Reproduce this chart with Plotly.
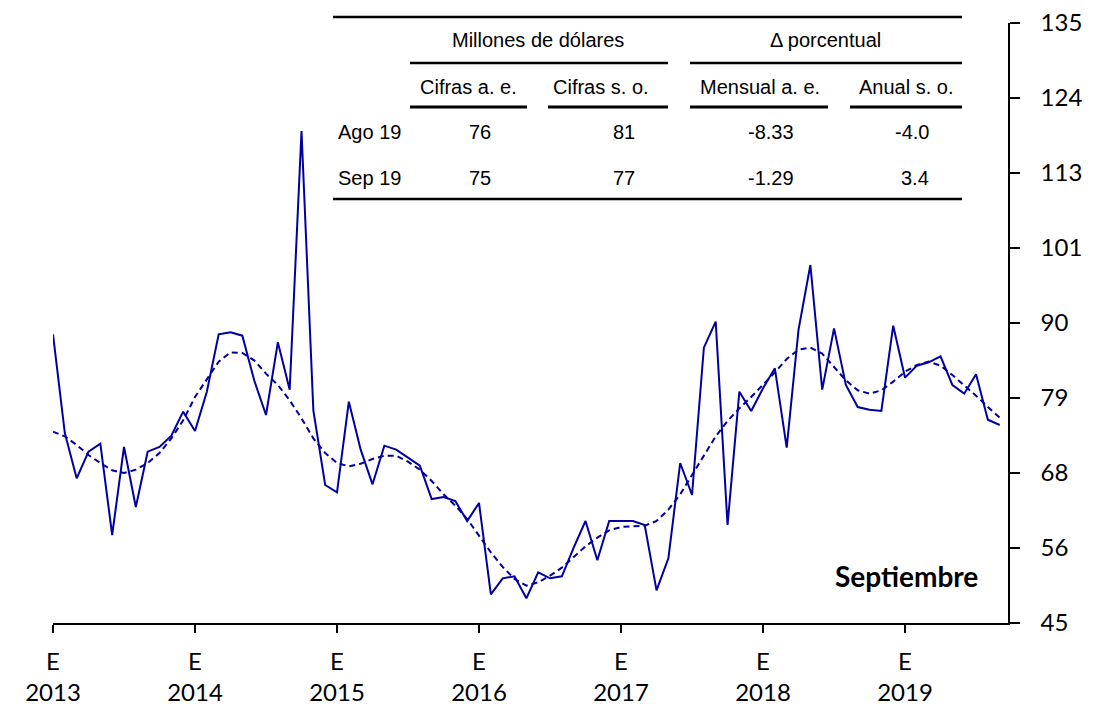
import plotly.graph_objects as go

# monthly index, Jan 2013 .. Sep 2019
months = list(range(81))
year_ticks = [0, 12, 24, 36, 48, 60, 72]
year_labels = ["E<br>2013", "E<br>2014", "E<br>2015", "E<br>2016",
               "E<br>2017", "E<br>2018", "E<br>2019"]

# seasonally adjusted series (solid)
serie_ae = [88.3, 73.5, 66.7, 70.7, 71.9, 58.2, 71.4, 62.4, 70.7, 71.4, 73.1, 76.7,
            73.8, 79.7, 88.3, 88.6, 88.1, 81.4, 76.2, 87.1, 80.0, 118.8, 76.9, 65.7,
            64.6, 78.2, 71.0, 65.8, 71.6, 71.0, 69.8, 68.6, 63.6, 63.9, 63.3, 60.3,
            63.0, 49.3, 51.7, 52.0, 48.7, 52.6, 51.7, 52.0, 56.3, 60.3, 54.4, 60.3,
            60.3, 60.3, 59.7, 49.9, 54.7, 69.0, 64.2, 86.3, 90.2, 59.7, 79.7, 76.8,
            80.2, 83.2, 71.3, 89.0, 98.7, 80.0, 89.2, 80.7, 77.4, 77.0, 76.8, 89.6,
            81.8, 83.6, 84.1, 85.0, 80.7, 79.4, 82.3, 75.5, 74.7]

# trend-cycle (dashed)
tendencia = [73.7, 73.0, 71.7, 70.2, 69.0, 67.9, 67.5, 68.0, 69.0, 70.5, 72.7, 75.4,
             78.9, 81.6, 84.2, 85.6, 85.5, 84.4, 82.4, 80.7, 78.4, 75.7, 72.7, 70.5,
             69.0, 68.5, 68.9, 69.6, 70.1, 70.1, 69.2, 68.0, 66.3, 64.3, 62.6, 60.6,
             58.1, 55.6, 53.4, 51.6, 50.6, 51.1, 52.1, 53.3, 54.9, 56.5, 57.8, 58.9,
             59.4, 59.5, 59.6, 60.3, 62.0, 64.3, 67.2, 70.2, 73.0, 75.3, 77.2, 78.9,
             80.7, 82.6, 84.6, 86.0, 86.3, 85.4, 83.4, 81.4, 79.9, 79.4, 79.9, 81.2,
             82.7, 83.7, 84.2, 83.6, 82.2, 80.7, 79.1, 77.4, 75.8]

y_tickvals = [45, 56.25, 67.5, 78.75, 90, 101.25, 112.5, 123.75, 135]
y_ticktext = ["45", "56", "68", "79", "90", "101", "113", "124", "135"]

# summary table
tabla_filas = ["Ago 19", "Sep 19"]
cifras_ae = ["76", "75"]
cifras_so = ["81", "77"]
mensual_ae = ["-8.33", "-1.29"]
anual_so = ["-4.0", "3.4"]

# page body has an 8px margin, so the figure is drawn 8px in
OFF = 8
W, H = 1109 - OFF, 715 - OFF
L, T = 53 - OFF, 23 - OFF
PW, PH = 955, 600
R, B = W - L - PW, H - T - PH


def px(x):
    # page pixel -> paper x
    return (x - OFF - L) / PW


def py(y):
    # page pixel -> paper y
    return (T + PH - (y - OFF)) / PH


blue = "#0000A0"
fig = go.Figure()
fig.add_trace(go.Scatter(x=months, y=serie_ae, mode="lines",
                         line=dict(color=blue, width=2), showlegend=False))
fig.add_trace(go.Scatter(x=months, y=tendencia, mode="lines",
                         line=dict(color=blue, width=2, dash="6px,4px"),
                         showlegend=False))

# table lines
shapes = []
for x0, x1, y, w in [(333, 962, 17, 2.5), (410, 668, 63, 2.5), (690, 962, 63, 2.5),
                     (410, 527, 107, 3), (548, 668, 107, 3), (690, 828, 107, 3),
                     (850, 962, 107, 3), (333, 962, 199, 2.5)]:
    shapes.append(dict(type="line", xref="paper", yref="paper",
                       x0=px(x0), x1=px(x1), y0=py(y), y1=py(y),
                       line=dict(color="black", width=w)))

tf = dict(family="Liberation Sans, Arial, sans-serif", size=20, color="black")
ann = []


def txt(s, x, y, anchor="center", font=tf):
    ann.append(dict(text=s, x=px(x), y=py(y), xref="paper", yref="paper",
                    xanchor=anchor, yanchor="middle", showarrow=False, font=font))


txt("Millones de dólares", 538, 40)
txt("Δ porcentual", 825, 40)
txt("Cifras a. e.", 468, 87)
txt("Cifras s. o.", 601, 87)
txt("Mensual a. e.", 760, 87)
txt("Anual s. o.", 906, 87)
for i, yy in enumerate([132, 178]):
    txt(tabla_filas[i], 336, yy, "left")
    txt(cifras_ae[i], 480, yy)
    txt(cifras_so[i], 637, yy, "right")
    txt(mensual_ae[i], 796, yy, "right")
    txt(anual_so[i], 931, yy, "right")

txt("<b>Septiembre</b>", 980, 576, "right",
    dict(family="Lato, Open Sans, sans-serif", size=28, color="black"))

axis_font = dict(family="Lato, Open Sans, sans-serif", size=24, color="black")
fig.update_layout(
    width=W, height=H,
    margin=dict(l=L, r=R, t=T, b=B, autoexpand=False),
    plot_bgcolor="white", paper_bgcolor="white",
    shapes=shapes, annotations=ann,
    xaxis=dict(range=[0, 80.7], tickvals=year_ticks, ticktext=year_labels,
               showgrid=False, zeroline=False, showline=True, linecolor="black",
               linewidth=1.5, ticks="outside", ticklen=8, tickwidth=1.5,
               tickcolor="black", tickfont=axis_font, automargin=False,
               ticklabelstandoff=8),
    yaxis=dict(range=[45, 135], side="right", tickvals=y_tickvals,
               ticktext=y_ticktext, showgrid=False, zeroline=False, showline=True,
               linecolor="black", linewidth=1.5, ticks="outside", ticklen=10,
               tickwidth=1.5, tickcolor="black", tickfont=axis_font,
               ticklabelstandoff=16, automargin=False, ticklabeloverflow="allow"),
)

fig.write_html("out.html")
